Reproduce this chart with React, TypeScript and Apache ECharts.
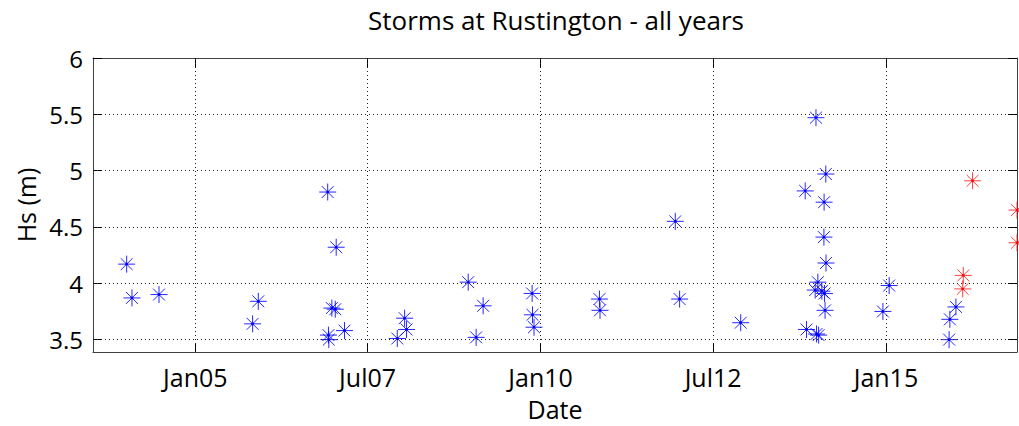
import React, { useEffect, useRef } from "react";
import * as echarts from "echarts";

const blueDates = [
  "2004-01-04", "2004-02-01", "2004-06-23", "2005-10-31", "2005-11-30",
  "2006-12-02", "2006-12-06", "2006-12-08", "2006-12-24", "2007-01-11",
  "2007-01-16", "2007-03-01", "2007-12-05", "2008-01-13", "2008-01-23",
  "2008-12-14", "2009-01-25", "2009-03-03", "2009-11-17", "2009-11-19",
  "2009-11-27", "2010-11-08", "2010-11-11", "2011-12-14", "2012-01-06",
  "2012-11-24", "2013-10-31", "2013-11-07", "2013-12-23", "2013-12-27",
  "2013-12-30", "2014-01-06", "2014-01-10", "2014-01-27", "2014-02-07",
  "2014-02-08", "2014-02-10", "2014-02-13", "2014-02-17", "2014-02-18",
  "2014-12-16", "2015-01-18", "2015-12-01", "2015-12-05", "2016-01-06",
];
const blueHs = [
  4.17, 3.87, 3.9, 3.64, 3.84,
  4.81, 3.54, 3.5, 3.78, 3.77,
  4.32, 3.58, 3.51, 3.69, 3.59,
  4.01, 3.52, 3.8, 3.91, 3.72,
  3.61, 3.86, 3.76, 4.55, 3.86,
  3.65, 4.82, 3.59, 3.94, 5.47,
  3.55, 4.01, 3.54, 3.93, 4.41,
  4.72, 3.91, 3.76, 4.97, 4.18,
  3.75, 3.98, 3.5, 3.68, 3.79,
];
const redDates = ["2016-02-11", "2016-02-14", "2016-04-03", "2016-11-24", "2016-11-24"];
const redHs = [3.95, 4.07, 4.91, 4.65, 4.36];

const xTickDates = ["2005-01-01", "2007-07-01", "2010-01-01", "2012-07-01", "2015-01-01"];
const yTicks = [3.5, 4, 4.5, 5, 5.5, 6];
const yGridLines = [3.5, 4, 4.5, 5, 5.5];
const xMinDate = "2003-07-10";
const xMaxDate = "2016-11-24";
const yMin = 3.39;
const yMax = 6;

const MONTHS = ["Jan", "Feb", "Mar", "Apr", "May", "Jun", "Jul", "Aug", "Sep", "Oct", "Nov", "Dec"];

function ts(s: string): number {
  const [y, m, d] = s.split("-").map(Number);
  return Date.UTC(y, m - 1, d);
}

const STAR =
  "path://M8,0L8,16M0,8L16,8M2.4,2.4L13.6,13.6M2.4,13.6L13.6,2.4M7.2,7.2L8.8,7.2L8.8,8.8L7.2,8.8Z";
const FONT = "'Open Sans', 'Noto Sans', sans-serif";

export default function App() {
  const ref = useRef<HTMLDivElement>(null);
  useEffect(() => {
    document.body.style.margin = "0";
    const chart = echarts.init(ref.current!, null, { renderer: "svg" });
    const xTicks = xTickDates.map(ts);
    const xmin = ts(xMinDate);
    const xmax = ts(xMaxDate);
    const blue = blueDates.map((d, i) => [ts(d), blueHs[i]]);
    const red = redDates.map((d, i) => [ts(d), redHs[i]]);
    const fmt = (v: number) => {
      const dt = new Date(v);
      return MONTHS[dt.getUTCMonth()] + String(dt.getUTCFullYear() % 100).padStart(2, "0");
    };
    const tickStyle = { inside: true, length: 9, lineStyle: { color: "#000", width: 1 } };
    const axisLineStyle = { show: true, lineStyle: { color: "#404040", width: 1 } };
    const gridLineStyle = { type: [1, 3] as any, color: "#222", width: 1 };
    chart.setOption({
      animation: false,
      backgroundColor: "#fff",
      title: {
        text: "Storms at Rustington - all years",
        left: 556,
        top: 7,
        padding: 0,
        textAlign: "center",
        textStyle: { fontFamily: FONT, fontSize: 26, fontWeight: "normal", color: "#000" },
      },
      grid: { left: 93, right: 2, top: 58, bottom: 74, containLabel: false },
      xAxis: [
        {
          type: "value",
          min: xmin,
          max: xmax,
          position: "bottom",
          name: "Date",
          nameLocation: "middle",
          nameGap: 44,
          nameTextStyle: { fontFamily: FONT, fontSize: 25, color: "#000" },
          axisLine: axisLineStyle,
          axisTick: { ...tickStyle, customValues: xTicks },
          axisLabel: {
            customValues: xTicks,
            formatter: (v: number) => fmt(v),
            fontFamily: FONT,
            fontSize: 25,
            color: "#000",
            margin: 12,
            hideOverlap: false,
          },
          splitLine: { show: false },
        },
        {
          type: "value",
          min: xmin,
          max: xmax,
          position: "top",
          axisLine: axisLineStyle,
          axisTick: { ...tickStyle, customValues: xTicks },
          axisLabel: { show: false },
          splitLine: { show: false },
        },
      ],
      yAxis: [
        {
          type: "value",
          min: yMin,
          max: yMax,
          position: "left",
          name: "Hs (m)",
          nameLocation: "middle",
          nameGap: 53,
          nameRotate: 90,
          nameTextStyle: { fontFamily: FONT, fontSize: 25, color: "#000" },
          axisLine: axisLineStyle,
          axisTick: { ...tickStyle, customValues: yTicks },
          axisLabel: {
            customValues: yTicks,
            fontFamily: FONT,
            fontSize: 24,
            color: "#000",
            margin: 10,
          },
          splitLine: { show: false },
        },
        {
          type: "value",
          min: yMin,
          max: yMax,
          position: "right",
          axisLine: axisLineStyle,
          axisTick: { ...tickStyle, customValues: yTicks },
          axisLabel: { show: false },
          splitLine: { show: false },
        },
      ],
      series: [
        {
          name: "grid",
          type: "scatter",
          data: [],
          silent: true,
          markLine: {
            silent: true,
            symbol: "none",
            label: { show: false },
            lineStyle: gridLineStyle,
            data: [
              ...xTicks.map((x) => ({ xAxis: x })),
              ...yGridLines.map((y) => ({ yAxis: y })),
            ],
          },
        },
        {
          name: "Previous storms",
          type: "scatter",
          data: blue,
          symbol: STAR,
          symbolSize: 17,
          clip: false,
          itemStyle: { color: "#0000ff", borderColor: "#0000ff", borderWidth: 1, opacity: 0.85 },
        },
        {
          name: "This season",
          type: "scatter",
          data: red,
          symbol: STAR,
          symbolSize: 17,
          clip: false,
          itemStyle: { color: "#ff0000", borderColor: "#ff0000", borderWidth: 1, opacity: 0.75 },
        },
      ],
    });
    return () => chart.dispose();
  }, []);
  return <div ref={ref} style={{ position: "absolute", left: 0, top: 0, width: 1019, height: 426 }} />;
}
